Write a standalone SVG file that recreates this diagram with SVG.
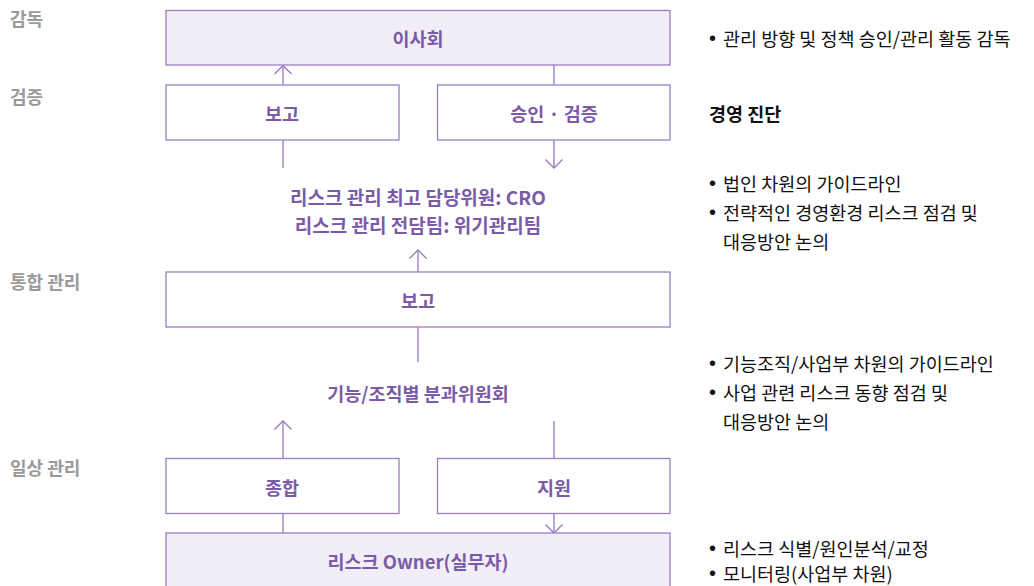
<svg xmlns="http://www.w3.org/2000/svg" width="1034" height="586" viewBox="0 0 1034 586">
<defs>
<style>
.box{fill:#ffffff;stroke:#9880c3;stroke-width:1.3}
.boxf{fill:#f1eef7;stroke:#9880c3;stroke-width:1.3}
.bt{font-family:"Noto Sans CJK KR","Noto Sans",sans-serif;font-size:18.5px;font-weight:700;fill:#7b5ba8;text-anchor:middle;dominant-baseline:central}
.lv{font-family:"Noto Sans CJK KR","Noto Sans",sans-serif;font-size:18px;font-weight:700;fill:#9a9a9a;dominant-baseline:central}
.rt{font-family:"Noto Sans CJK KR","Noto Sans",sans-serif;font-size:18.5px;fill:#111;dominant-baseline:central}
.rb{font-family:"Noto Sans CJK KR","Noto Sans",sans-serif;font-size:18.5px;font-weight:700;fill:#111;dominant-baseline:central}
.bul{font-family:"Liberation Sans",sans-serif;font-size:20px}
.ln{stroke:#9479c0;stroke-width:1.3;fill:none}
</style>
<marker id="ah" viewBox="0 0 10 18" refX="9" refY="9" markerWidth="10" markerHeight="18" markerUnits="userSpaceOnUse" orient="auto">
<path d="M0.5,0.5 L9,9 L0.5,17.5" fill="none" stroke="#9479c0" stroke-width="1.3"/>
</marker>
</defs>
<rect width="1034" height="586" fill="#ffffff"/>

<g id="levels">
<text class="lv" x="10" y="18">감독</text>
<text class="lv" x="10" y="96">검증</text>
<text class="lv" x="10" y="281">통합 관리</text>
<text class="lv" x="10" y="467">일상 관리</text>
</g>

<g id="connectors">
<line class="ln" x1="283" y1="85" x2="283" y2="65.5" marker-end="url(#ah)"/>
<line class="ln" x1="554" y1="65" x2="554" y2="85"/>
<line class="ln" x1="283" y1="140" x2="283" y2="168"/>
<line class="ln" x1="554" y1="140" x2="554" y2="168" marker-end="url(#ah)"/>
<line class="ln" x1="418" y1="272" x2="418" y2="250" marker-end="url(#ah)"/>
<line class="ln" x1="418" y1="327" x2="418" y2="362"/>
<line class="ln" x1="283" y1="458" x2="283" y2="421" marker-end="url(#ah)"/>
<line class="ln" x1="554" y1="421" x2="554" y2="458"/>
<line class="ln" x1="283" y1="514" x2="283" y2="533"/>
<line class="ln" x1="554" y1="514" x2="554" y2="533" marker-end="url(#ah)"/>
</g>

<g id="board">
<rect class="boxf" x="166" y="10.5" width="504" height="54.5"/>
<text class="bt" x="418" y="38">이사회</text>
</g>
<g id="report1">
<rect class="box" x="166" y="85" width="233" height="55"/>
<text class="bt" x="282" y="113">보고</text>
</g>
<g id="approve">
<rect class="box" x="437.5" y="85" width="232.5" height="55"/>
<text class="bt" x="554" y="113">승인 · 검증</text>
</g>
<g id="cro">
<text class="bt" x="418" y="196" style="font-size:19px">리스크 관리 최고 담당위원: CRO</text>
<text class="bt" x="418" y="224" style="font-size:19px">리스크 관리 전담팀: 위기관리팀</text>
</g>
<g id="report2">
<rect class="box" x="166" y="272" width="504" height="55"/>
<text class="bt" x="418" y="300">보고</text>
</g>
<g id="committee">
<text class="bt" x="418" y="393">기능/조직별 분과위원회</text>
</g>
<g id="summary">
<rect class="box" x="166" y="458.5" width="233" height="55"/>
<text class="bt" x="282" y="487">종합</text>
</g>
<g id="support">
<rect class="box" x="437.5" y="458.5" width="232.5" height="55"/>
<text class="bt" x="554" y="487">지원</text>
</g>
<g id="owner">
<rect class="boxf" x="166" y="533" width="504" height="60"/>
<text class="bt" x="418" y="561">리스크 Owner(실무자)</text>
</g>

<g id="notes">
<text class="rt" y="38"><tspan class="bul" x="709">•</tspan><tspan x="723">관리 방향 및 정책 승인/관리 활동 감독</tspan></text>
<text class="rb" x="709" y="113">경영 진단</text>
<text class="rt" y="183"><tspan class="bul" x="709">•</tspan><tspan x="723">법인 차원의 가이드라인</tspan></text>
<text class="rt" y="212"><tspan class="bul" x="709">•</tspan><tspan x="723">전략적인 경영환경 리스크 점검 및</tspan></text>
<text class="rt" x="723" y="241">대응방안 논의</text>
<text class="rt" y="363"><tspan class="bul" x="709">•</tspan><tspan x="723">기능조직/사업부 차원의 가이드라인</tspan></text>
<text class="rt" y="392"><tspan class="bul" x="709">•</tspan><tspan x="723">사업 관련 리스크 동향 점검 및</tspan></text>
<text class="rt" x="723" y="421">대응방안 논의</text>
<text class="rt" y="548"><tspan class="bul" x="709">•</tspan><tspan x="723">리스크 식별/원인분석/교정</tspan></text>
<text class="rt" y="573"><tspan class="bul" x="709">•</tspan><tspan x="723">모니터링(사업부 차원)</tspan></text>
</g>
</svg>
